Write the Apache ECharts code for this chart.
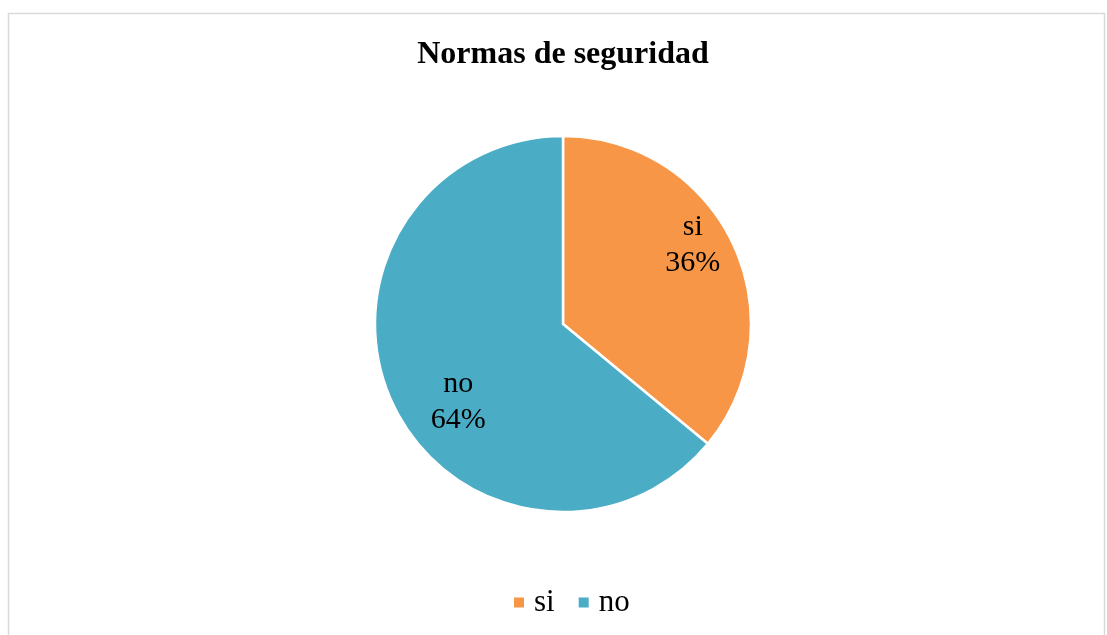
<!DOCTYPE html>
<html>
<head>
<meta charset="utf-8">
<script src="https://cdn.jsdelivr.net/npm/echarts@6/dist/echarts.min.js"></script>
<style>
  html, body { margin: 0; padding: 0; background: #fff; }
  #chart { width: 1107px; height: 635px; }
</style>
</head>
<body>
<div id="chart"></div>
<script>
// datos del gráfico
const categorias = ['si', 'no']
const valores = [36, 64]
const colores = ['#F79646', '#4BACC6']

// ajuste de las etiquetas (como las coloca Excel)
const desplazaEtiqueta = [[42, -38], [-17, 37]]

const chart = echarts.init(document.getElementById('chart'))
const option = {
  backgroundColor: '#fff',
  animation: false,
  title: {
    text: 'Normas de seguridad',
    left: 558,
    textAlign: 'center',
    top: 34,
    textStyle: {
      fontFamily: 'Liberation Serif',
      fontWeight: 'bold',
      fontSize: 32,
      color: '#000'
    }
  },
  graphic: [{
    type: 'rect',
    shape: { x: 8.5, y: 13.5, width: 1096, height: 640 },
    style: { fill: 'none', stroke: '#d9d9d9', lineWidth: 1.5 },
    silent: true
  }],
  legend: {
    bottom: 12,
    left: 507,
    icon: 'rect',
    itemWidth: 12,
    itemHeight: 12,
    itemGap: 22,
    data: categorias,
    textStyle: {
      fontFamily: 'Liberation Serif',
      fontSize: 31,
      color: '#000',
      padding: [0, 0, 0, 4]
    }
  },
  series: [{
    type: 'pie',
    center: [563, 324],
    radius: [0, 188],
    startAngle: 90,
    clockwise: true,
    data: categorias.map((c, i) => ({
      name: c,
      value: valores[i],
      itemStyle: { color: colores[i] }
    })),
    itemStyle: { borderColor: '#fff', borderWidth: 2.5 },
    label: {
      position: 'inside',
      formatter: '{b}\n{d}%',
      fontFamily: 'Liberation Serif',
      fontSize: 30,
      lineHeight: 36,
      color: '#000'
    },
    labelLine: { show: false },
    labelLayout: function (params) {
      const d = desplazaEtiqueta[params.dataIndex]
      return { dx: d[0], dy: d[1] }
    },
    emphasis: { disabled: true }
  }]
}
chart.setOption(option)
</script>
</body>
</html>
